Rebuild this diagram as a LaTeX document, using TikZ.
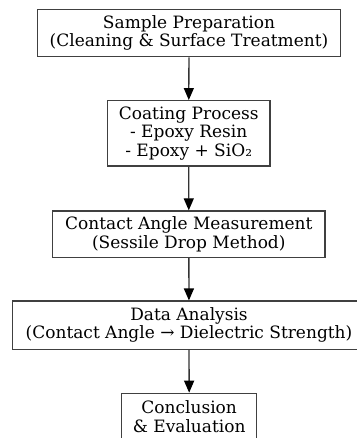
\documentclass[tikz,border=0pt]{standalone}
\usepackage{fontspec}
\setmainfont{DejaVu Serif}
\usetikzlibrary{arrows.meta}
\tikzset{
  stage/.style={draw=black!75, line width=1.2pt, fill=white, align=center,
    inner sep=0pt, font=\fontsize{17}{18.4}\selectfont, text=black},
  flow/.style={draw=black!80, line width=1.3pt,
    -{Triangle[length=12pt,width=10pt,color=black,fill=black]}}
}
\begin{document}
\begin{tikzpicture}[x=1pt,y=1pt]
  \useasboundingbox (0,0) rectangle (356,438);
  \node[stage, minimum width=303.4pt, minimum height=47.2pt] (prep) at (189,404.9)
    {Sample Preparation\\(Cleaning \& Surface Treatment)};
  \node[stage, minimum width=162.7pt, minimum height=65.3pt] (coat) at (188.7,304.7)
    {Coating Process\\- Epoxy Resin\\- Epoxy + SiO₂};
  \node[stage, minimum width=272.3pt, minimum height=46.7pt] (meas) at (188.8,203.7)
    {Contact Angle Measurement\\(Sessile Drop Method)};
  \node[stage, minimum width=353.4pt, minimum height=48.3pt] (anal) at (189,112.8)
    {Data Analysis\\(Contact Angle → Dielectric Strength)};
  \node[stage, minimum width=135pt, minimum height=47pt] (conc) at (189.2,21.2)
    {Conclusion\\\& Evaluation};
  \draw[flow] (prep) -- (coat);
  \draw[flow] (coat) -- (meas);
  \draw[flow] (meas) -- (anal);
  \draw[flow] (anal) -- (conc);
\end{tikzpicture}
\end{document}
